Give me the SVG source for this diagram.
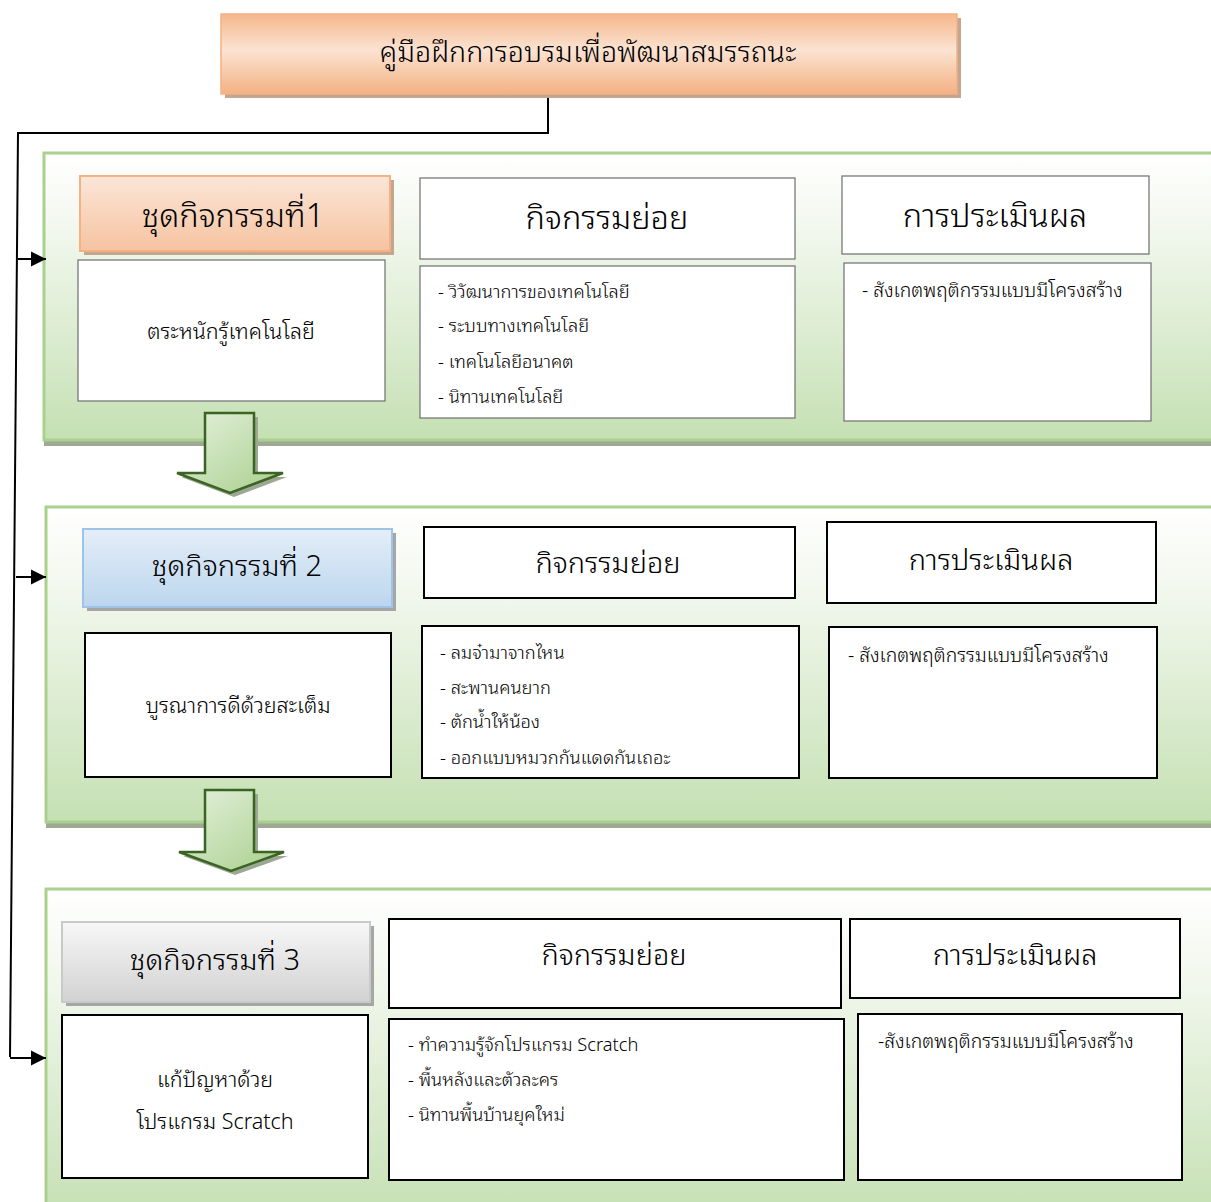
<svg xmlns="http://www.w3.org/2000/svg" width="1211" height="1202" viewBox="0 0 1211 1202">
  <defs>
    <linearGradient id="gTitle" x1="0" y1="0" x2="0" y2="1">
      <stop offset="0" stop-color="#f5b78b"/>
      <stop offset="0.45" stop-color="#fbe3d2"/>
      <stop offset="1" stop-color="#f4b183"/>
    </linearGradient>
    <linearGradient id="gOrange" x1="0" y1="0" x2="0" y2="1">
      <stop offset="0" stop-color="#fbe6d8"/>
      <stop offset="1" stop-color="#f6c3a0"/>
    </linearGradient>
    <linearGradient id="gBlue" x1="0" y1="0" x2="0" y2="1">
      <stop offset="0" stop-color="#e4eef8"/>
      <stop offset="1" stop-color="#bcd6ee"/>
    </linearGradient>
    <linearGradient id="gGray" x1="0" y1="0" x2="0" y2="1">
      <stop offset="0" stop-color="#f7f7f7"/>
      <stop offset="1" stop-color="#d2d2d2"/>
    </linearGradient>
    <linearGradient id="gPanel" x1="0" y1="0" x2="0" y2="1">
      <stop offset="0" stop-color="#ffffff"/>
      <stop offset="0.25" stop-color="#f3f8ef"/>
      <stop offset="1" stop-color="#c5e0b3"/>
    </linearGradient>
    <linearGradient id="gArrow" x1="0" y1="0" x2="1" y2="1">
      <stop offset="0" stop-color="#e6f1de"/>
      <stop offset="1" stop-color="#a8cf8c"/>
    </linearGradient>
    <marker id="head" markerWidth="16" markerHeight="16" refX="15" refY="8" orient="auto" markerUnits="userSpaceOnUse">
      <path d="M0,0.5 L15,8 L0,15.5 Z" fill="#000"/>
    </marker>
  </defs>
  <style>
    text { font-family: "Noto Sans Thai Looped", "Noto Sans", "DejaVu Sans", sans-serif; font-weight: 300; fill: #000; }
    .title { font-size: 28.6px; text-anchor: middle; }
    .head { font-size: 29px; text-anchor: middle; }
    .head1 { font-size: 32.5px; text-anchor: middle; }
    .body { font-size: 21.5px; text-anchor: middle; }
    .item { font-size: 18.3px; }
    .eval { font-size: 19.3px; }
    .panel { fill: url(#gPanel); stroke: #a9d18e; stroke-width: 3; }
    .pshadow { fill: #9ea894; }
    .thin { fill: #fff; stroke: #6e6e6e; stroke-width: 1.2; }
    .bold { fill: #fff; stroke: #000; stroke-width: 2; }
    .hshadow { fill: #a6a6a6; }
    .oshadow { fill: #c3a690; }
    .wire { fill: none; stroke: #000; stroke-width: 2; }
    .down { fill: url(#gArrow); stroke: #3b6323; stroke-width: 2.5; stroke-linejoin: miter; }
    .dshadow { fill: #9da893; }
  </style>

  <!-- title -->
  <g id="title">
    <rect class="oshadow" x="225" y="18" width="736" height="80"/>
    <rect x="221" y="14" width="736" height="80" fill="url(#gTitle)" stroke="#f4b183" stroke-width="1.5"/>
    <text class="title" x="588" y="62">คู่มือฝึกการอบรมเพื่อพัฒนาสมรรถนะ</text>
  </g>

  <!-- background panels -->
  <g id="panel1">
    <rect class="pshadow" x="44" y="153" width="1180" height="293"/>
    <rect class="panel" x="44" y="153" width="1180" height="287"/>
  </g>
  <g id="panel2">
    <rect class="pshadow" x="46" y="507" width="1180" height="321"/>
    <rect class="panel" x="46" y="507" width="1180" height="315"/>
  </g>
  <g id="panel3">
    <rect class="panel" x="46" y="889" width="1180" height="330"/>
  </g>

  <!-- connectors -->
  <g id="connectors">
    <polyline class="wire" points="548,98 548,133 18,133 10,1057"/>
    <line class="wire" x1="18" y1="259" x2="46" y2="259" marker-end="url(#head)"/>
    <line class="wire" x1="16" y1="577" x2="46" y2="577" marker-end="url(#head)"/>
    <line class="wire" x1="10" y1="1058" x2="46" y2="1058" marker-end="url(#head)"/>
  </g>

  <!-- set 1 -->
  <g id="set1-head">
    <rect class="oshadow" x="84" y="180" width="310" height="75"/>
    <rect x="80" y="176" width="310" height="75" fill="url(#gOrange)" stroke="#f4b183" stroke-width="2"/>
    <text class="head1" x="233" y="227">ชุดกิจกรรมที่1</text>
  </g>
  <g id="set1-name">
    <rect class="thin" x="78" y="260" width="307" height="141"/>
    <text class="body" x="231" y="339" font-size="22">ตระหนักรู้เทคโนโลยี</text>
  </g>
  <g id="set1-sub-head">
    <rect class="thin" x="420" y="178" width="375" height="81"/>
    <text class="head1" x="607" y="229">กิจกรรมย่อย</text>
  </g>
  <g id="set1-sub-list">
    <rect class="thin" x="420" y="266" width="375" height="152"/>
    <text class="item" x="438" y="298">- วิวัฒนาการของเทคโนโลยี</text>
    <text class="item" x="438" y="332">- ระบบทางเทคโนโลยี</text>
    <text class="item" x="438" y="368">- เทคโนโลยีอนาคต</text>
    <text class="item" x="438" y="403">- นิทานเทคโนโลยี</text>
  </g>
  <g id="set1-eval-head">
    <rect class="thin" x="842" y="176" width="307" height="78"/>
    <text class="head1" x="995" y="227">การประเมินผล</text>
  </g>
  <g id="set1-eval-list">
    <rect class="thin" x="844" y="263" width="307" height="158"/>
    <text class="eval" x="862" y="297">- สังเกตพฤติกรรมแบบมีโครงสร้าง</text>
  </g>

  <!-- arrow 1 to 2 -->
  <g id="flow1">
    <polygon class="dshadow" points="209,417 258,417 258,477 287,477 234,497 181,477 209,477"/>
    <polygon class="down" points="205,413 254,413 254,473 283,473 230,493 177,473 205,473"/>
  </g>

  <!-- set 2 -->
  <g id="set2-head">
    <rect class="hshadow" x="87" y="533" width="309" height="78"/>
    <rect x="83" y="529" width="309" height="78" fill="url(#gBlue)" stroke="#9dc3e6" stroke-width="2"/>
    <text class="head" x="237" y="576">ชุดกิจกรรมที่ 2</text>
  </g>
  <g id="set2-name">
    <rect class="bold" x="85" y="633" width="306" height="144"/>
    <text class="body" x="238" y="713">บูรณาการดีด้วยสะเต็ม</text>
  </g>
  <g id="set2-sub-head">
    <rect class="bold" x="424" y="527" width="371" height="71"/>
    <text class="head" x="608" y="573">กิจกรรมย่อย</text>
  </g>
  <g id="set2-sub-list">
    <rect class="bold" x="422" y="626" width="377" height="152"/>
    <text class="item" x="440" y="659">- ลมจ๋ามาจากไหน</text>
    <text class="item" x="440" y="694">- สะพานคนยาก</text>
    <text class="item" x="440" y="728">- ตักน้ำให้น้อง</text>
    <text class="item" x="440" y="764">- ออกแบบหมวกกันแดดกันเถอะ</text>
  </g>
  <g id="set2-eval-head">
    <rect class="bold" x="827" y="522" width="329" height="81"/>
    <text class="head" x="991" y="570">การประเมินผล</text>
  </g>
  <g id="set2-eval-list">
    <rect class="bold" x="829" y="627" width="328" height="151"/>
    <text class="eval" x="848" y="662">- สังเกตพฤติกรรมแบบมีโครงสร้าง</text>
  </g>

  <!-- arrow 2 to 3 -->
  <g id="flow2">
    <polygon class="dshadow" points="209,794 258,794 258,856 288,856 235,875 183,856 209,856"/>
    <polygon class="down" points="205,790 254,790 254,852 284,852 231,871 179,852 205,852"/>
  </g>

  <!-- set 3 -->
  <g id="set3-head">
    <rect class="hshadow" x="66" y="926" width="308" height="80"/>
    <rect x="62" y="922" width="308" height="80" fill="url(#gGray)" stroke="#c9c9c9" stroke-width="2"/>
    <text class="head" x="215" y="970">ชุดกิจกรรมที่ 3</text>
  </g>
  <g id="set3-name">
    <rect class="bold" x="62" y="1015" width="306" height="163"/>
    <text class="body" x="215" y="1087">แก้ปัญหาด้วย</text>
    <text class="body" x="215" y="1129">โปรแกรม Scratch</text>
  </g>
  <g id="set3-sub-head">
    <rect class="bold" x="389" y="919" width="452" height="89"/>
    <text class="head" x="614" y="965">กิจกรรมย่อย</text>
  </g>
  <g id="set3-sub-list">
    <rect class="bold" x="389" y="1019" width="455" height="161"/>
    <text class="item" x="408" y="1051">- ทำความรู้จักโปรแกรม Scratch</text>
    <text class="item" x="408" y="1086">- พื้นหลังและตัวละคร</text>
    <text class="item" x="408" y="1121">- นิทานพื้นบ้านยุคใหม่</text>
  </g>
  <g id="set3-eval-head">
    <rect class="bold" x="850" y="919" width="330" height="79"/>
    <text class="head" x="1015" y="965">การประเมินผล</text>
  </g>
  <g id="set3-eval-list">
    <rect class="bold" x="858" y="1014" width="324" height="166"/>
    <text class="eval" x="878" y="1048">-สังเกตพฤติกรรมแบบมีโครงสร้าง</text>
  </g>
</svg>
